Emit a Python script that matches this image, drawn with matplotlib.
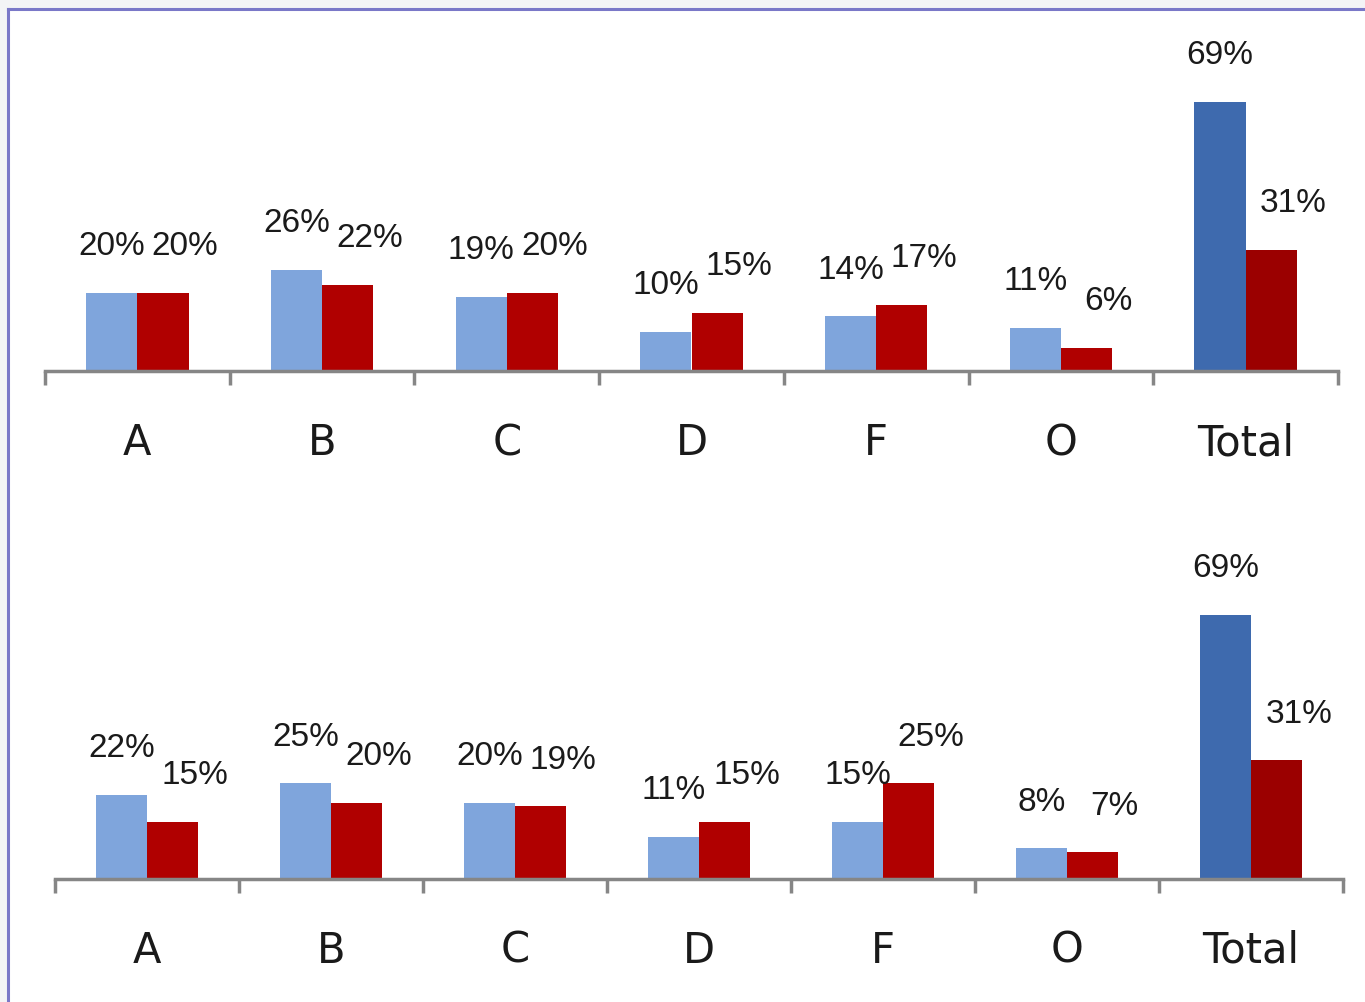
import matplotlib
matplotlib.use("Agg")
import matplotlib.pyplot as plt
from matplotlib.patches import Rectangle
from matplotlib.lines import Line2D

categories = ["A", "B", "C", "D", "F", "O", "Total"]
top_blue = [20, 26, 19, 10, 14, 11, 69]
top_red = [20, 22, 20, 15, 17, 6, 31]
bottom_blue = [22, 25, 20, 11, 15, 8, 69]
bottom_red = [15, 20, 19, 15, 25, 7, 31]

LIGHT_BLUE = "#7FA5DC"
RED = "#B00000"
DARK_BLUE = "#3E6AAE"
DARK_RED = "#9B0000"
AXIS_GRAY = "#868686"

fig = plt.figure(figsize=(13.65, 10.03), dpi=100)
fig.patch.set_facecolor("#F3F4F6")

# white panel with purple border (left and top visible)
W, H = 1365, 1003
fig.patches.append(Rectangle((8 / W, 0), 1 - 8 / W, 1 - 10 / H, transform=fig.transFigure,
                             facecolor="white", edgecolor="none", zorder=-5))
fig.lines.append(Line2D([8 / W, 8 / W], [0, 1 - 10 / H], transform=fig.transFigure,
                        color="#7A78C8", lw=2.2, zorder=-4))
fig.lines.append(Line2D([8 / W, 1], [1 - 10 / H, 1 - 10 / H], transform=fig.transFigure,
                        color="#7A78C8", lw=2.2, zorder=-4))


def panel(rect, blue, red):
    ax = fig.add_axes(rect)
    ax.set_facecolor("none")
    n = len(categories)
    w = 0.277
    xs = list(range(n))
    bcol = [LIGHT_BLUE] * (n - 1) + [DARK_BLUE]
    rcol = [RED] * (n - 1) + [DARK_RED]
    ax.bar([x - w / 2 for x in xs], blue, width=w, color=bcol, edgecolor="none", zorder=2)
    ax.bar([x + w / 2 for x in xs], red, width=w, color=rcol, edgecolor="none", zorder=2)
    for x, b, r in zip(xs, blue, red):
        ax.annotate(f"{b}%", (x - w / 2, b), xytext=(0, 34), textcoords="offset points",
                    ha="center", va="center", fontsize=24, family="Liberation Sans", color="#1a1a1a")
        ax.annotate(f"{r}%", (x + w / 2, r), xytext=(16, 34), textcoords="offset points",
                    ha="center", va="center", fontsize=24, family="Liberation Sans", color="#1a1a1a")
    ax.set_xlim(-0.5, n - 0.5)
    ax.set_ylim(0, 80)
    for s in ["left", "right", "top"]:
        ax.spines[s].set_visible(False)
    ax.spines["bottom"].set_color(AXIS_GRAY)
    ax.spines["bottom"].set_linewidth(2.5)
    ax.set_yticks([])
    ax.set_xticks([i - 0.5 for i in range(n + 1)], minor=False)
    ax.set_xticklabels([])
    ax.tick_params(axis="x", which="major", length=10, width=2.5, color=AXIS_GRAY, direction="out")
    ax.set_xticks(xs, minor=True)
    ax.set_xticklabels(categories, minor=True, fontsize=30, family="DejaVu Sans", color="#1a1a1a")
    ax.tick_params(axis="x", which="minor", length=0, pad=36)
    return ax


panel([45 / W, 1 - 372 / H, (1338 - 45) / W, 312 / H], top_blue, top_red)
panel([55 / W, 1 - 880 / H, (1343 - 55) / W, 306 / H], bottom_blue, bottom_red)

fig.savefig("out.png", dpi=100, facecolor=fig.get_facecolor())
